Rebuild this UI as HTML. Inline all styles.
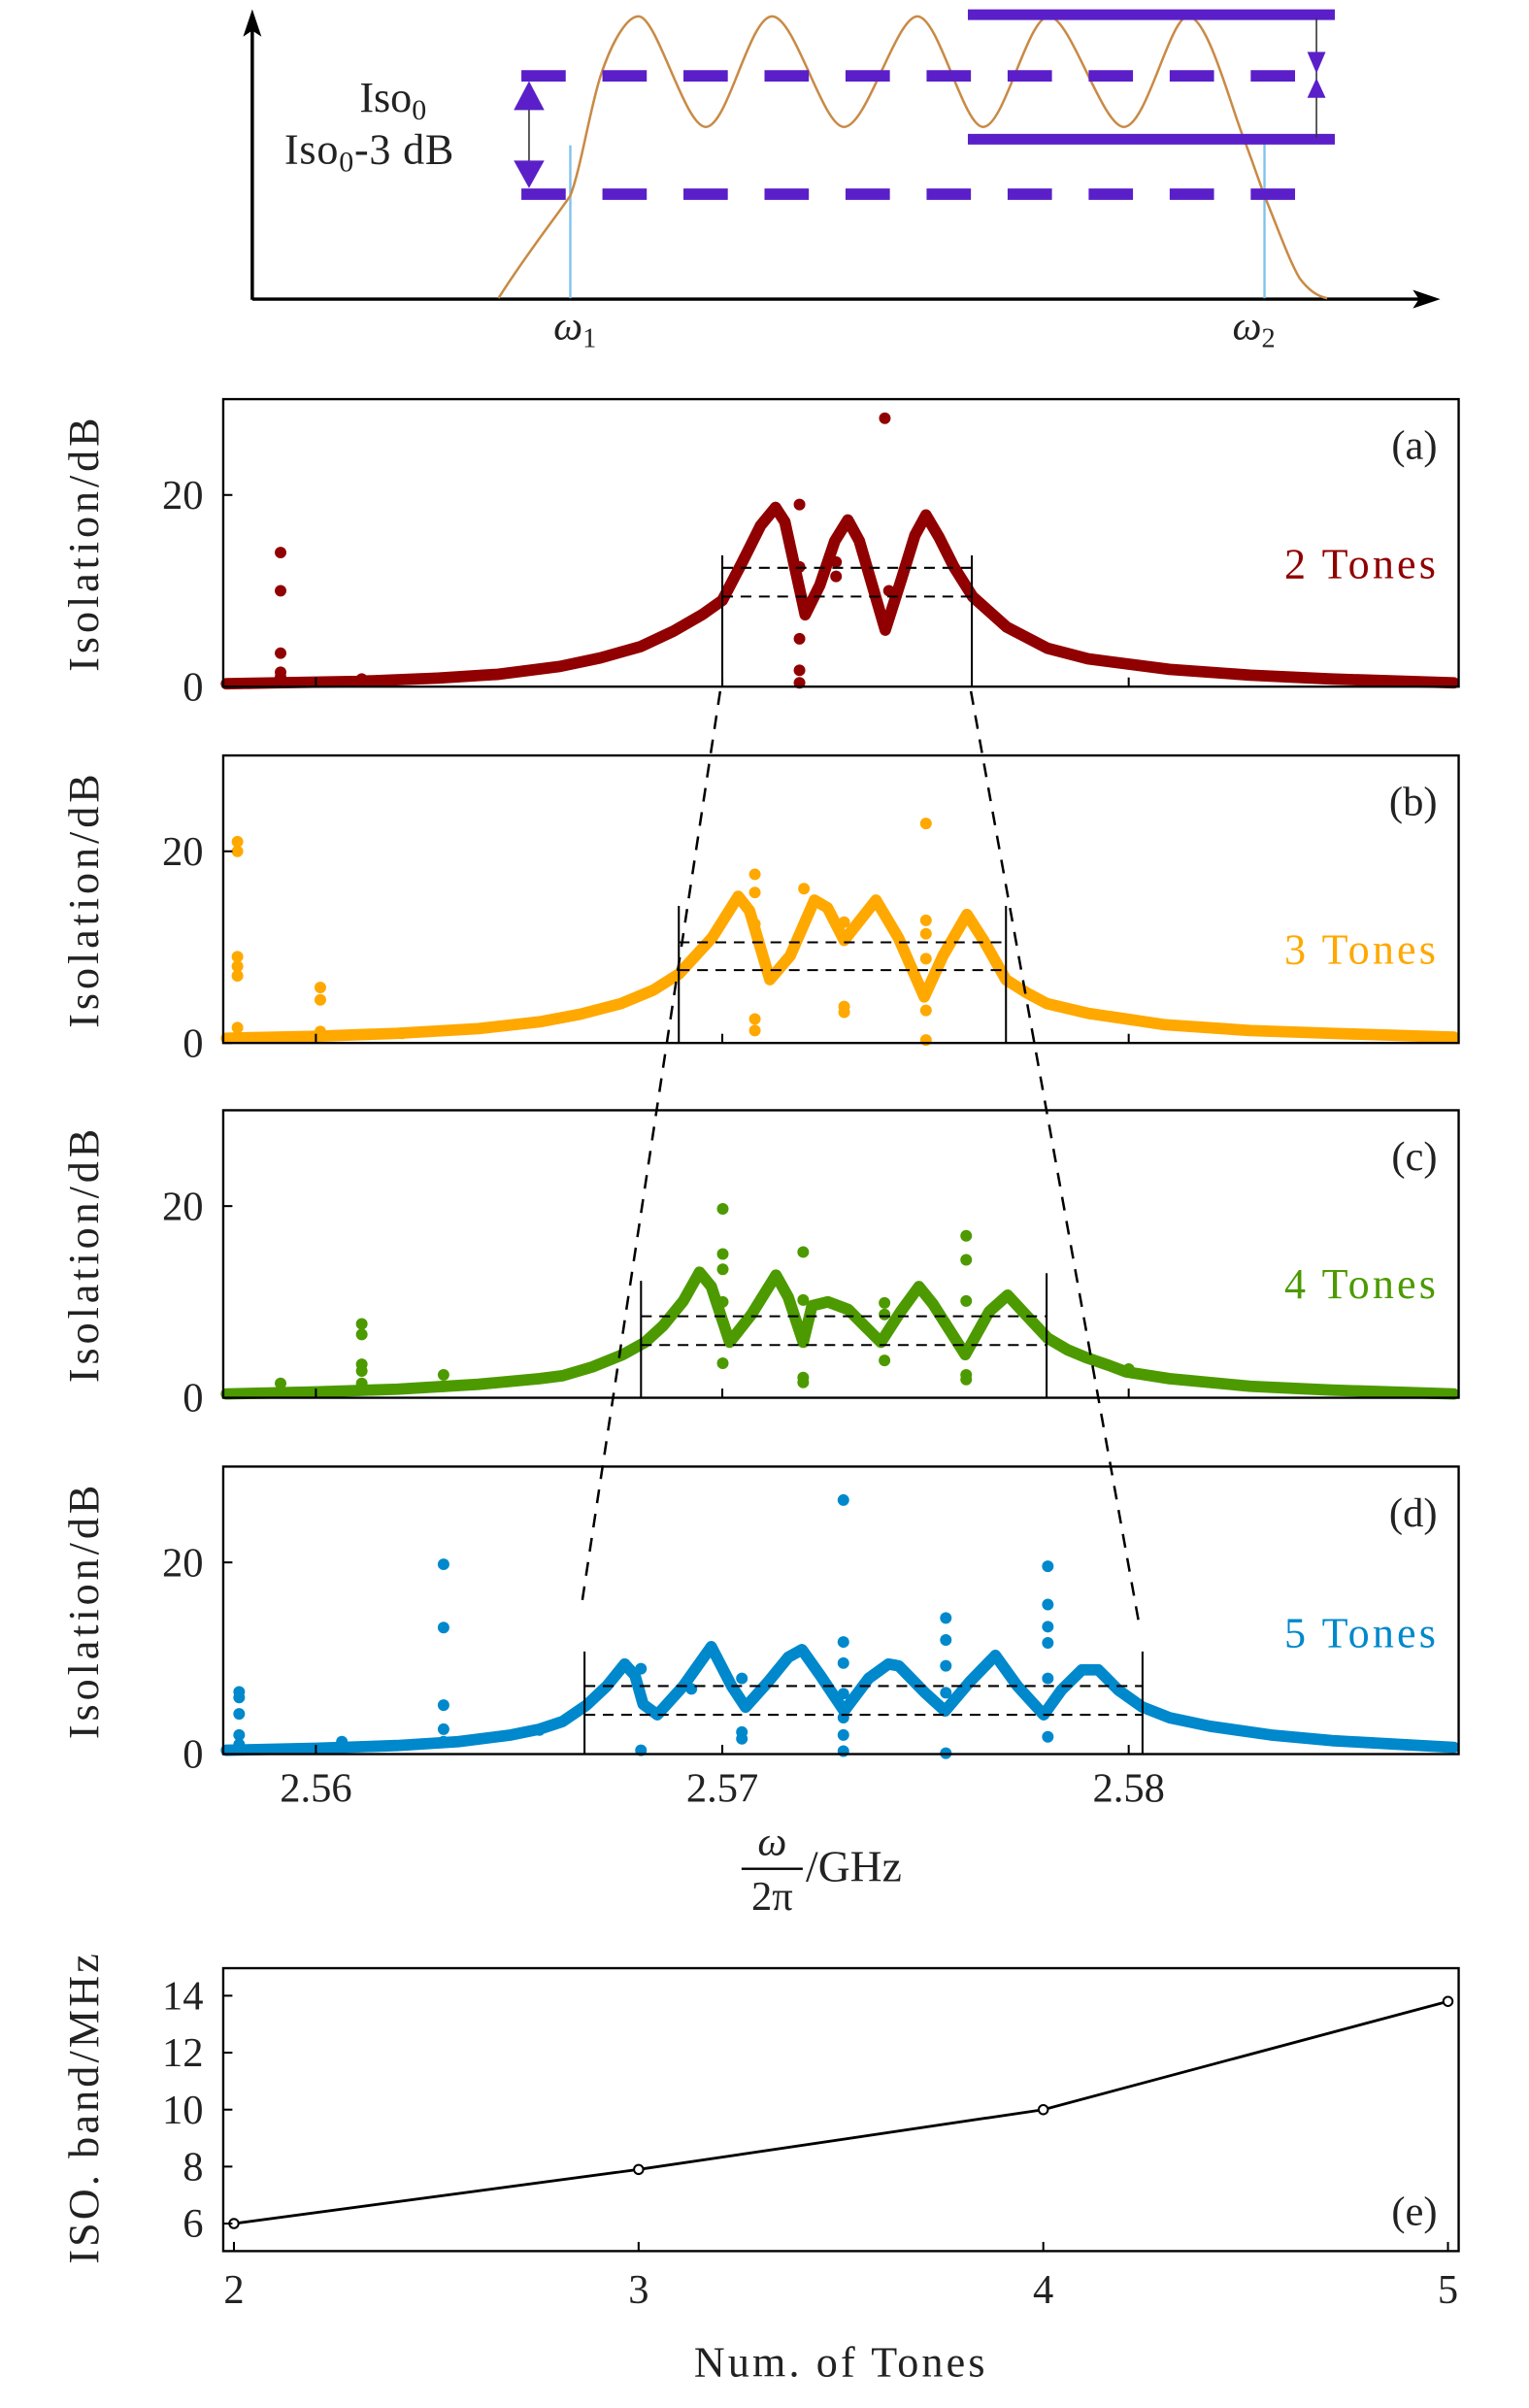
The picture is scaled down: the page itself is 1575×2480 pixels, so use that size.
<!DOCTYPE html>
<html><head><meta charset="utf-8">
<style>
html,body{margin:0;padding:0;background:#fff;}
svg{display:block;}
text{font-family:"Liberation Serif",serif;fill:#222;}
</style></head>
<body>
<svg id="fig" xmlns="http://www.w3.org/2000/svg" width="1575" height="2480" viewBox="0 0 1000 1574.6">
<g>
  <line x1="165" y1="196" x2="165" y2="16" stroke="#000" stroke-width="2.2"/>
  <polygon points="165,6 159,24 165,20 171,24" fill="#000"/>
  <line x1="165" y1="195.6" x2="932" y2="195.6" stroke="#000" stroke-width="2.2"/>
  <polygon points="942,195.6 924,189.5 928,195.6 924,201.7" fill="#000"/>
  <line x1="373" y1="95" x2="373" y2="195" stroke="#7ec3ee" stroke-width="1.5"/>
  <line x1="827" y1="94" x2="827" y2="195" stroke="#7ec3ee" stroke-width="1.5"/>
  <path fill="none" stroke="#c98a45" stroke-width="1.6"
    d="M326,195 C345,165 365,140 373,128 C380,110 386,70 393,49 C400,28 410,10 418,10.7 C430,12 448,83 461.6,83 C476,83 490,10.7 505,10.7 C520,10.7 538,83 552,83 C567,83 586,10.7 600,10.7 C614,10.7 630,83 643,83 C657,83 672,10.7 686,10.7 C700,10.7 721,83 735,83 C750,83 765,10.7 777,10.7 C790,10.7 805,70 814,92 C820,108 824,120 827,128 C836,150 843,170 850,182 C856,190 862,194 868,195"/>
  <line x1="341" y1="49.6" x2="860" y2="49.6" stroke="#5a1fc8" stroke-width="7.5" stroke-dasharray="29 24"/>
  <line x1="341" y1="127" x2="847" y2="127" stroke="#5a1fc8" stroke-width="7.5" stroke-dasharray="29 24"/>
  <line x1="633" y1="9.6" x2="873" y2="9.6" stroke="#5a1fc8" stroke-width="7"/>
  <line x1="633" y1="91" x2="873" y2="91" stroke="#5a1fc8" stroke-width="7"/>
  <line x1="861" y1="12" x2="861" y2="90" stroke="#333" stroke-width="1"/>
  <polygon points="855,34 867,34 861,48" fill="#5a1fc8"/>
  <polygon points="855,64 867,64 861,51" fill="#5a1fc8"/>
  <line x1="346" y1="55" x2="346" y2="122" stroke="#333" stroke-width="1"/>
  <polygon points="336,72 356,72 346,53" fill="#5a1fc8"/>
  <polygon points="336,105 356,105 346,123" fill="#5a1fc8"/>
  <text x="257" y="73" font-size="28" text-anchor="middle">Iso<tspan font-size="19" dy="5">0</tspan></text>
  <text x="186" y="107" font-size="28" letter-spacing="0.5">Iso<tspan font-size="19" dy="5">0</tspan><tspan dy="-5">-3 dB</tspan></text>
  <text x="362" y="222" font-size="27" font-style="italic">ω<tspan font-size="18" font-style="normal" dy="5">1</tspan></text>
  <text x="806" y="222" font-size="27" font-style="italic">ω<tspan font-size="18" font-style="normal" dy="5">2</tspan></text>
</g>
<g id="charts"></g>
</svg>
<script>
// ===== Data =====
const xTicks = [2.56, 2.57, 2.58];
const xTickLabels = ["2.56", "2.57", "2.58"];
const yTicks = [0, 20];
const yTickLabels = ["0", "20"];
const panelLetters = ["(a)", "(b)", "(c)", "(d)"];
const toneLabels = ["2 Tones", "3 Tones", "4 Tones", "5 Tones"];
const colors = ["#910000", "#ffa800", "#4c9a00", "#0088cc"];

const freqA = [2.5578,2.559,2.561,2.563,2.5645,2.566,2.567,2.568,2.5688,2.5695,2.57,2.57048,2.57094,2.57131,2.57154,2.57204,2.5724,2.57277,2.57309,2.57337,2.57401,2.57442,2.57474,2.57501,2.57533,2.5757,2.57616,2.577,2.578,2.579,2.581,2.583,2.585,2.588];
const isoA  = [0.3,0.4,0.55,0.9,1.3,2.1,3.0,4.2,5.8,7.5,9.0,12.9,16.8,18.7,17.2,7.5,10.6,15.2,17.4,15.2,5.9,11.4,15.8,17.9,15.6,12.5,9.4,6.2,4.0,2.9,1.8,1.2,0.8,0.4];
const outFreqA = [2.55913,2.55913,2.55913,2.55913,2.55913,2.56113,2.5719,2.5719,2.5719,2.5719,2.5719,2.5728,2.5728,2.574,2.5741];
const outIsoA  = [14,10,3.5,1.5,1,0.8,19,12.5,5,1.7,0.4,13,11.5,28,10];
const bandA = [2.57, 2.57614, 13.7, 13.7, 12.4, 9.4];

const freqB = [2.5578,2.56,2.562,2.564,2.5655,2.5665,2.5675,2.5683,2.56893,2.56975,2.57039,2.57067,2.57117,2.57167,2.57227,2.57259,2.573,2.57378,2.57433,2.57497,2.57543,2.57602,2.57643,2.57698,2.5775,2.57799,2.579,2.5809,2.583,2.585,2.588];
const isoB  = [0.5,0.7,1.0,1.5,2.2,3.0,4.1,5.5,7.2,11.0,15.3,13.8,6.6,9.1,14.9,14.1,10.7,14.9,11.0,4.8,9.1,13.4,10.7,6.6,5.2,4.1,3.1,1.9,1.3,1.0,0.6];
const outFreqB = [2.55807,2.55807,2.55807,2.55807,2.55807,2.55807,2.56011,2.56011,2.56011,2.56212,2.5708,2.5708,2.5708,2.5708,2.5708,2.57201,2.573,2.573,2.573,2.573,2.57501,2.57501,2.57501,2.57501,2.57501,2.57501];
const outIsoB  = [21,20,9,8,7,1.6,5.8,4.5,1.2,1.0,17.6,15.7,12.4,2.5,1.3,16.1,12.6,11,3.8,3.2,22.9,12.8,11.4,8.8,3.4,0.3];
const bandB = [2.56893, 2.57698, 14.3, 14.3, 10.5, 7.6];

const freqC = [2.5578,2.56,2.562,2.564,2.5655,2.56607,2.5668,2.56755,2.5681,2.56854,2.56904,2.56944,2.56973,2.57018,2.57072,2.57132,2.57162,2.57199,2.57221,2.5726,2.5731,2.5739,2.57439,2.57484,2.57518,2.57598,2.57657,2.57702,2.57746,2.57801,2.5785,2.57895,2.5795,2.57994,2.581,2.583,2.585,2.588];
const isoC  = [0.4,0.6,0.9,1.4,2.0,2.3,3.2,4.5,5.8,7.5,10.1,13.1,11.6,5.8,8.7,12.8,10.5,5.8,9.6,10.0,9.2,5.8,9.0,11.6,9.8,4.5,9.0,10.7,8.7,6.2,5.0,4.2,3.4,2.7,2.0,1.2,0.8,0.4];
const outFreqC = [2.55913,2.56113,2.56113,2.56113,2.56113,2.56113,2.56314,2.56314,2.57001,2.57001,2.57001,2.57001,2.57001,2.57199,2.57199,2.57199,2.57199,2.57399,2.57399,2.57399,2.576,2.576,2.576,2.576,2.576,2.58];
const outIsoC  = [1.5,7.7,6.6,3.5,2.8,1.5,2.4,1.2,19.7,15,13.4,10,3.6,15.2,10.2,2.1,1.6,9.9,8.7,3.9,16.9,14.4,10.1,2.4,1.9,3];
const bandC = [2.568, 2.57798, 12.2, 13.0, 8.5, 5.5];

const freqD = [2.5578,2.56,2.562,2.5635,2.5648,2.5655,2.56607,2.56666,2.56716,2.5676,2.56785,2.56805,2.5684,2.56904,2.56973,2.57023,2.57057,2.57112,2.57162,2.57196,2.57241,2.573,2.5736,2.57409,2.57434,2.57499,2.57548,2.57608,2.57672,2.57726,2.57791,2.57835,2.57885,2.57925,2.57974,2.58034,2.581,2.582,2.5835,2.585,2.588];
const isoD  = [0.4,0.6,0.9,1.3,2.0,2.6,3.4,5.1,7.1,9.4,8.2,5.2,4.1,7.1,11.2,7.1,4.9,7.5,10.1,10.9,8.2,4.5,7.9,9.4,9.2,6.4,4.5,7.5,10.3,7.1,4.1,6.7,8.8,8.8,6.7,4.9,3.8,2.9,2.0,1.4,0.7];
const outFreqD = [2.55811,2.55811,2.55811,2.55811,2.55811,2.56064,2.56314,2.56314,2.56314,2.56314,2.56314,2.5655,2.568,2.568,2.56924,2.57048,2.57048,2.57048,2.57298,2.57298,2.57298,2.57298,2.57298,2.57298,2.57298,2.5755,2.5755,2.5755,2.5755,2.5755,2.57801,2.57801,2.57801,2.57801,2.57801,2.57801];
const outIsoD  = [6.5,5.9,4.2,2,1,1.3,19.8,13.2,5.1,2.6,1.3,2.5,8.9,0.4,6.8,7.9,2.3,1.6,26.5,11.7,9.5,6.3,3.8,2,0.3,14.2,11.9,9.2,6.4,0.1,19.6,15.6,13.3,11.6,7.9,1.8];
const bandD = [2.56661, 2.58034, 10.7, 10.7, 7.1, 4.1];

const tonesE = [2, 3, 4, 5];
const bandwidthE = [6.0, 7.9, 10.0, 13.8];
const eXTicks = [2, 3, 4, 5];
const eYTicks = [6, 8, 10, 12, 14];

// ===== Layout =====
const NS = "http://www.w3.org/2000/svg";
const root = document.getElementById('charts');
const L = 146, R = 954;
const panelBottoms = [449, 682, 914, 1147];
const PH = 188, YMAX = 30;
function xs(f){ return 472.4 + (f - 2.57) * 26580; }
function ys(p, v){ return panelBottoms[p] - v * PH / YMAX; }
function mk(tag, attrs, parent){
  const e = document.createElementNS(NS, tag);
  for (const k in attrs) e.setAttribute(k, attrs[k]);
  (parent || root).appendChild(e);
  return e;
}
const freqs = [freqA, freqB, freqC, freqD];
const isos = [isoA, isoB, isoC, isoD];
const outF = [outFreqA, outFreqB, outFreqC, outFreqD];
const outI = [outIsoA, outIsoB, outIsoC, outIsoD];
const bands = [bandA, bandB, bandC, bandD];
const names = ['a','b','c','d'];

for (let p = 0; p < 4; p++) {
  const g = mk('g', {});
  
  
  const bot = panelBottoms[p], top = bot - PH;
  const pts = freqs[p].map((f, i) => xs(f).toFixed(1) + ',' + ys(p, isos[p][i]).toFixed(1)).join(' ');
  const cv = mk('polyline', {points: pts, fill: 'none', stroke: colors[p], 'stroke-width': 7.5, 'stroke-linejoin': 'round', 'stroke-linecap': 'round'}, g);
  
  
  outF[p].forEach((f, i) => {
    const c = mk('circle', {cx: xs(f).toFixed(1), cy: ys(p, outI[p][i]).toFixed(1), r: 3.8, fill: colors[p]}, g);
    
    
  });
  const b = bands[p];
  const v1 = mk('line', {x1: xs(b[0]), x2: xs(b[0]), y1: bot, y2: ys(p, b[2]), stroke: '#000', 'stroke-width': 1.3}, g);
  
  
  const v2 = mk('line', {x1: xs(b[1]), x2: xs(b[1]), y1: bot, y2: ys(p, b[3]), stroke: '#000', 'stroke-width': 1.3}, g);
  
  
  const h1 = mk('line', {x1: xs(b[0]), x2: xs(b[1]), y1: ys(p, b[4]), y2: ys(p, b[4]), stroke: '#000', 'stroke-width': 1.3, 'stroke-dasharray': '7 5'}, g);
  
  
  const h2 = mk('line', {x1: xs(b[0]), x2: xs(b[1]), y1: ys(p, b[5]), y2: ys(p, b[5]), stroke: '#000', 'stroke-width': 1.3, 'stroke-dasharray': '7 5'}, g);
  
  
  const fr = mk('rect', {x: L, y: top, width: R - L, height: PH, fill: 'none', stroke: '#000', 'stroke-width': 1.5}, g);
  
  
  xTicks.forEach((t, i) => {
    const tk = mk('line', {x1: xs(t), x2: xs(t), y1: bot, y2: bot - 6, stroke: '#000', 'stroke-width': 1.3}, g);
    
    
    if (p === 3) {
      const tl = mk('text', {x: xs(t), y: bot + 31, 'font-size': 27, 'text-anchor': 'middle'}, g);
      tl.textContent = xTickLabels[i];
      
      
    }
  });
  yTicks.forEach((t, i) => {
    const tk = mk('line', {x1: L, x2: L + 6, y1: ys(p, t), y2: ys(p, t), stroke: '#000', 'stroke-width': 1.3}, g);
    
    
    const tl = mk('text', {x: 133, y: ys(p, t) + 9, 'font-size': 27, 'text-anchor': 'end'}, g);
    tl.textContent = yTickLabels[i];
    
    
  });
  const yl = mk('text', {x: 0, y: 0, 'font-size': 28, 'text-anchor': 'middle', transform: 'translate(64,' + (top + PH / 2) + ') rotate(-90)', 'letter-spacing': '2.5'}, g);
  yl.textContent = 'Isolation/dB';
  
  
  const pl = mk('text', {x: 940, y: top + 39, 'font-size': 27, 'text-anchor': 'end'}, g);
  pl.textContent = panelLetters[p];
  
  
  const tn = mk('text', {x: 941, y: [378, 630, 849, 1077][p], 'font-size': 28, 'text-anchor': 'end', fill: colors[p], style: 'fill:' + colors[p], 'letter-spacing': '2'}, g);
  tn.textContent = toneLabels[p];
  
  
}
const c1 = mk('line', {x1: 471, y1: 452, x2: 380, y2: 1052, stroke: '#000', 'stroke-width': 1.6, 'stroke-dasharray': '9 7'});


const c2 = mk('line', {x1: 635, y1: 452, x2: 745, y2: 1062, stroke: '#000', 'stroke-width': 1.6, 'stroke-dasharray': '9 7'});


const xt = mk('g', {});


const om = mk('text', {x: 505, y: 1213, 'font-size': 27, 'font-style': 'italic', 'text-anchor': 'middle'}, xt);
om.textContent = 'ω';
mk('line', {x1: 485, x2: 525, y1: 1222, y2: 1222, stroke: '#000', 'stroke-width': 1.5}, xt);
const tp = mk('text', {x: 505, y: 1249, 'font-size': 27, 'text-anchor': 'middle'}, xt);
tp.textContent = '2π';
const gh = mk('text', {x: 527, y: 1230, 'font-size': 29}, xt);
gh.textContent = '/GHz';

// ===== Panel e =====
const eL = 146, eR = 954, eT = 1287, eB = 1472;
function ex(n){ return 153 + (n - 2) * (947 - 153) / 3; }
function ey(v){ return 1454 - (v - 6) * (1454 - 1305) / 8; }
const ge = mk('g', {});


const fe = mk('rect', {x: eL, y: eT, width: eR - eL, height: eB - eT, fill: 'none', stroke: '#000', 'stroke-width': 1.5}, ge);


const ln = mk('polyline', {points: tonesE.map((t, i) => ex(t) + ',' + ey(bandwidthE[i])).join(' '), fill: 'none', stroke: '#000', 'stroke-width': 1.8}, ge);


tonesE.forEach((t, i) => {
  const c = mk('circle', {cx: ex(t), cy: ey(bandwidthE[i]), r: 3, fill: '#fff', stroke: '#000', 'stroke-width': 1.3}, ge);
  
  
});
eXTicks.forEach(t => {
  const tk = mk('line', {x1: ex(t), x2: ex(t), y1: eB, y2: eB - 6, stroke: '#000', 'stroke-width': 1.3}, ge);
  
  
  const tl = mk('text', {x: ex(t), y: eB + 34, 'font-size': 27, 'text-anchor': 'middle'}, ge);
  tl.textContent = String(t);
  
  
});
eYTicks.forEach(t => {
  const tk = mk('line', {x1: eL, x2: eL + 6, y1: ey(t), y2: ey(t), stroke: '#000', 'stroke-width': 1.3}, ge);
  
  
  const tl = mk('text', {x: 133, y: ey(t) + 9, 'font-size': 27, 'text-anchor': 'end'}, ge);
  tl.textContent = String(t);
  
  
});
const eyl = mk('text', {x: 0, y: 0, 'font-size': 28, 'text-anchor': 'middle', transform: 'translate(64,1378) rotate(-90)', 'letter-spacing': '2'}, ge);
eyl.textContent = 'ISO. band/MHz';


const exl = mk('text', {x: 550, y: 1554, 'font-size': 28, 'text-anchor': 'middle', 'letter-spacing': '2'}, ge);
exl.textContent = 'Num. of Tones';


const el = mk('text', {x: 940, y: 1455, 'font-size': 27, 'text-anchor': 'end'}, ge);
el.textContent = '(e)';


</script>
</body></html>
